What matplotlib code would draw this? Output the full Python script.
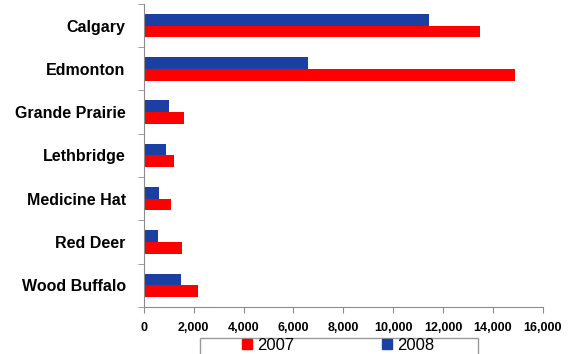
import matplotlib.pyplot as plt
import numpy as np
from matplotlib.patches import Patch, Rectangle
from matplotlib.ticker import FuncFormatter, FixedLocator

plt.rcParams['font.family'] = ['Liberation Sans', 'DejaVu Sans']

cities = ['Calgary', 'Edmonton', 'Grande Prairie', 'Lethbridge',
          'Medicine Hat', 'Red Deer', 'Wood Buffalo']
values_2007 = [13500, 14900, 1600, 1200, 1090, 1530, 2190]
values_2008 = [11450, 6600, 1000, 880, 620, 560, 1480]
x_ticks = [0, 2000, 4000, 6000, 8000, 10000, 12000, 14000, 16000]

red = '#ff0000'
blue = '#1b3fa3'
grey = '#8c8c8c'

fig = plt.figure(figsize=(5.75, 3.54), dpi=100)
ax = fig.add_axes([0.25, 0.133, 0.694, 0.856])

y = np.arange(len(cities))
h = 0.27
ax.barh(y - h / 2, values_2008, height=h, color=blue)
ax.barh(y + h / 2, values_2007, height=h, color=red)

ax.set_ylim(len(cities) - 0.5, -0.5)
ax.set_xlim(0, 16000)

ax.set_yticks(y)
ax.set_yticklabels(cities, fontsize=11.5, fontweight='bold')
ax.yaxis.set_minor_locator(FixedLocator(np.arange(-0.5, len(cities), 1)))
ax.tick_params(axis='y', which='major', length=0, pad=13)
ax.tick_params(axis='y', which='minor', length=4, color=grey)

ax.set_xticks(x_ticks)
ax.xaxis.set_major_formatter(FuncFormatter(lambda v, p: f'{int(v):,}'))
for lab in ax.get_xticklabels():
    lab.set_fontweight('bold')
ax.tick_params(axis='x', labelsize=9, length=4, color=grey, pad=7)

for s in ['top', 'right']:
    ax.spines[s].set_visible(False)
for s in ['left', 'bottom']:
    ax.spines[s].set_color(grey)

# legend box (cut off at the bottom of the image)
fig.patches.append(Rectangle((200 / 575, -0.05), 278 / 575, 0.095,
                             transform=fig.transFigure, fill=False,
                             edgecolor='#999999', linewidth=1))
handles = [Patch(color=red, label='2007'), Patch(color=blue, label='2008')]
fig.legend(handles=handles, loc='upper center', bbox_to_anchor=(0.588, 0.045),
           ncol=2, frameon=False, fontsize=12, handlelength=0.6,
           handleheight=0.6, handletextpad=0.3, columnspacing=5.3,
           borderpad=0, borderaxespad=0)

fig.savefig('out.png', dpi=100)
